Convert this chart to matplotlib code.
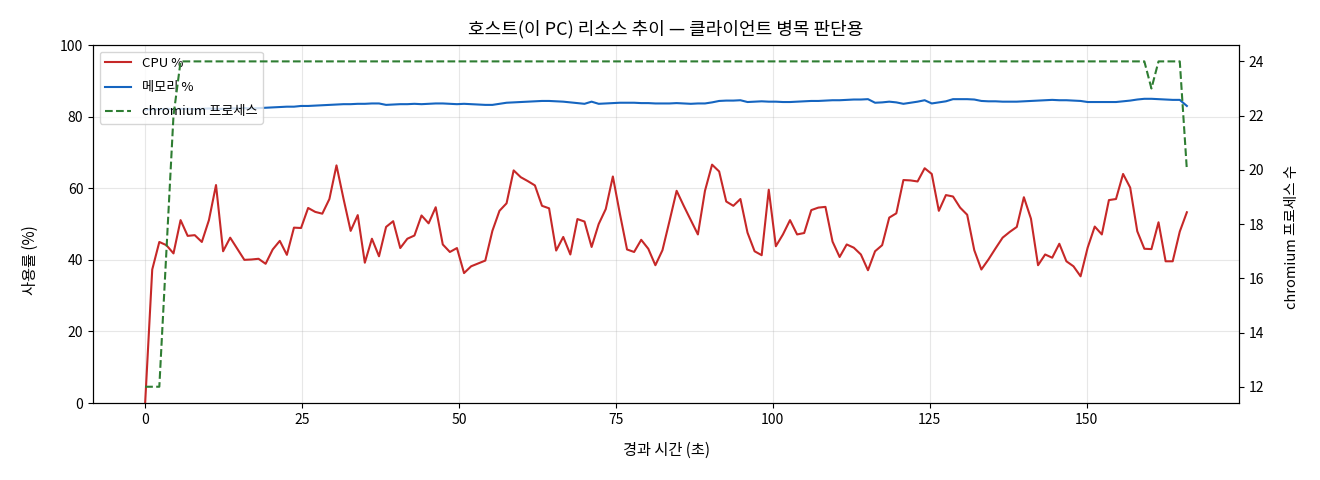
import matplotlib
matplotlib.use('Agg')
import matplotlib.pyplot as plt
import numpy as np

plt.rcParams['font.family'] = ['Noto Sans CJK KR', 'DejaVu Sans']
plt.rcParams['axes.unicode_minus'] = False

# sample interval (s) of the host monitor
sample_sec = 1.129

cpu = [0.0, 37.3, 45.0, 44.1, 41.8, 51.1, 46.7, 46.9, 45.0, 51.1,
       60.9, 42.4, 46.2, 43.1, 40.0, 40.1, 40.3, 38.9, 42.9, 45.3,
       41.4, 49.0, 48.9, 54.5, 53.4, 52.9, 57.0, 66.4, 57.0, 48.1,
       52.5, 39.2, 45.9, 41.0, 49.2, 50.8, 43.3, 45.9, 46.8, 52.4,
       50.2, 54.7, 44.3, 42.2, 43.3, 36.3, 38.2, 39.0, 39.8, 48.1,
       53.7, 55.8, 65.0, 63.1, 62.0, 60.8, 55.1, 54.4, 42.6, 46.4,
       41.5, 51.4, 50.7, 43.6, 50.0, 54.2, 63.3, 52.8, 42.9, 42.2,
       45.6, 43.1, 38.5, 42.7, 50.9, 59.3, 55.1, 51.1, 47.1, 59.3,
       66.6, 64.7, 56.3, 55.1, 57.0, 47.6, 42.4, 41.3, 59.6, 43.8,
       47.1, 51.1, 47.1, 47.5, 53.9, 54.6, 54.8, 45.1, 40.8, 44.3,
       43.4, 41.5, 37.1, 42.4, 44.1, 51.8, 53.0, 62.3, 62.2, 61.9,
       65.6, 64.0, 53.7, 58.1, 57.7, 54.6, 52.6, 42.7, 37.3, 40.1,
       43.2, 46.2, 47.8, 49.2, 57.5, 51.5, 38.5, 41.5, 40.6, 44.5,
       39.6, 38.2, 35.4, 43.4, 49.3, 47.1, 56.7, 57.0, 64.0, 60.2,
       48.0, 43.1, 43.0, 50.5, 39.6, 39.6, 47.9, 53.3]

mem = [82.0, 82.1, 82.1, 82.2, 82.1, 82.2, 82.2, 82.1, 82.2, 82.3,
       82.2, 82.2, 82.3, 82.3, 82.4, 82.3, 82.4, 82.5, 82.6, 82.7,
       82.8, 82.8, 83.0, 83.0, 83.1, 83.2, 83.3, 83.4, 83.5, 83.5,
       83.6, 83.6, 83.7, 83.7, 83.3, 83.4, 83.5, 83.5, 83.6, 83.5,
       83.6, 83.7, 83.7, 83.6, 83.5, 83.6, 83.5, 83.4, 83.3, 83.3,
       83.6, 83.9, 84.0, 84.1, 84.2, 84.3, 84.4, 84.4, 84.3, 84.2,
       84.0, 83.8, 83.6, 84.2, 83.6, 83.7, 83.8, 83.9, 83.9, 83.9,
       83.8, 83.8, 83.7, 83.7, 83.7, 83.8, 83.7, 83.6, 83.7, 83.7,
       84.0, 84.4, 84.5, 84.5, 84.6, 84.1, 84.2, 84.3, 84.2, 84.2,
       84.1, 84.1, 84.2, 84.3, 84.4, 84.4, 84.5, 84.6, 84.6, 84.7,
       84.8, 84.8, 84.9, 83.9, 84.0, 84.2, 84.0, 83.6, 83.9, 84.2,
       84.6, 83.7, 84.0, 84.3, 84.9, 84.9, 84.9, 84.8, 84.4, 84.3,
       84.3, 84.2, 84.2, 84.2, 84.3, 84.4, 84.5, 84.6, 84.7, 84.6,
       84.6, 84.5, 84.4, 84.1, 84.1, 84.1, 84.1, 84.1, 84.3, 84.5,
       84.8, 85.0, 85.0, 84.9, 84.8, 84.7, 84.7, 83.0]

chromium = [12, 12, 12, 17, 22] + [24] * 137 + [23, 24, 24, 24, 24, 20]

t = np.arange(len(cpu)) * sample_sec

fig, ax = plt.subplots(figsize=(13.2, 4.8), dpi=100)
fig.subplots_adjust(left=0.0705, right=0.9386, bottom=0.1604, top=0.906)

l1, = ax.plot(t, cpu, color='#c62828', lw=1.5, label='CPU %')
l2, = ax.plot(t, mem, color='#1565c0', lw=1.5, label='메모리 %')
ax.set_ylim(0, 100)
ax.set_xlabel('경과 시간 (초)', fontsize=11, labelpad=11)
ax.set_ylabel('사용률 (%)', fontsize=11, labelpad=15)
ax.yaxis.label.set_y(0.4)
ax.grid(True, alpha=0.3)
ax.tick_params(labelsize=10)

ax2 = ax.twinx()
l3, = ax2.plot(t, chromium, color='#2e7d32', lw=1.5, ls='--', label='chromium 프로세스')
ax2.set_ylabel('chromium 프로세스 수', fontsize=10.5, labelpad=15)
ax2.yaxis.label.set_y(0.465)
ax2.tick_params(labelsize=10)

ax.legend(handles=[l1, l2, l3], loc='upper left', fontsize=9.5, labelspacing=0.85)
ax.set_title('호스트(이 PC) 리소스 추이 — 클라이언트 병목 판단용', fontsize=13, pad=8)

plt.savefig('out.png')
